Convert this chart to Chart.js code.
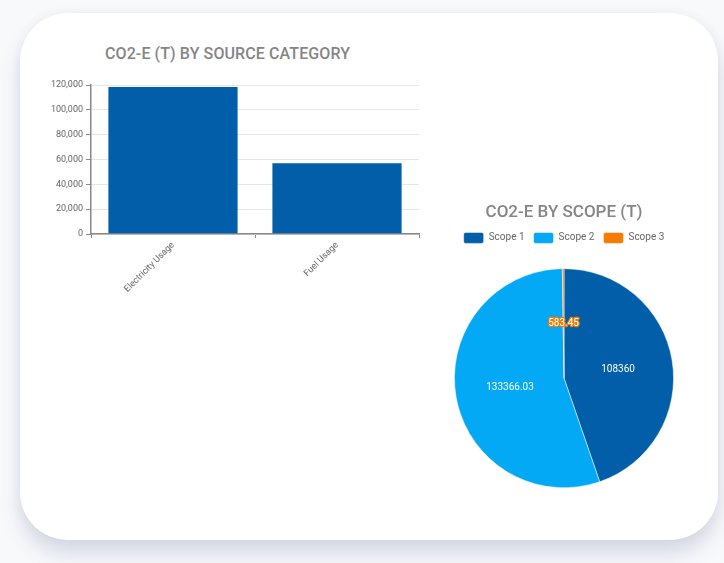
<!DOCTYPE html>
<html>
<head>
<meta charset="utf-8">
<script src="https://cdn.jsdelivr.net/npm/chart.js@4"></script>
<style>
  html, body { margin: 0; padding: 0; }
  body { width: 724px; height: 563px; background: #f8f9fb; position: relative; overflow: hidden; font-family: Roboto, sans-serif; }
  .card { position: absolute; left: 20px; top: 13px; width: 698px; height: 527px; background: #fff; border-radius: 48px;
          box-shadow: 0 14px 20px rgba(60, 80, 130, 0.18), 0 0 12px rgba(60, 80, 130, 0.05); }
  .title { position: absolute; left: 105px; top: 44px; font: 500 16px Roboto, sans-serif; color: #858585; letter-spacing: 0.1px; }
  #barWrap { position: absolute; left: 30px; top: 75px; width: 400px; height: 225px; }
  #pieWrap { position: absolute; left: 414px; top: 202px; width: 300px; height: 300px; }
</style>
</head>
<body>
<div class="card"></div>
<div class="title">CO2-E (T) BY SOURCE CATEGORY</div>
<div id="barWrap"><canvas id="barChart"></canvas></div>
<div id="pieWrap"><canvas id="pieChart"></canvas></div>
<script>
  const sourceCategories = ['Electricity Usage', 'Fuel Usage'];
  const sourceValues = [119200, 57800];

  const scopeLabels = ['Scope 1', 'Scope 2', 'Scope 3'];
  const scopeValues = [108360, 133366.03, 583.45];

  const dark = '#025ea8';
  const light = '#03a9f4';
  const orange = '#f57c00';

  Chart.defaults.font.family = 'Roboto, sans-serif';

  new Chart(document.getElementById('barChart'), {
    type: 'bar',
    data: {
      labels: sourceCategories,
      datasets: [{
        data: sourceValues,
        backgroundColor: dark,
        borderColor: 'rgba(255,255,255,0.35)',
        borderWidth: 1,
        barPercentage: 0.8,
        categoryPercentage: 1
      }]
    },
    options: {
      responsive: true,
      maintainAspectRatio: false,
      animation: false,
      layout: { padding: { top: 10, right: 11 } },
      plugins: { legend: { display: false }, tooltip: { enabled: false } },
      scales: {
        x: {
          afterFit: s => { s.height = 66; },
          grid: { drawOnChartArea: false, tickColor: '#888', tickLength: 4 },
          border: { color: '#888', width: 1.5 },
          ticks: { color: '#666', font: { size: 9 }, minRotation: 45, maxRotation: 45, padding: 2 }
        },
        y: {
          min: 0,
          max: 120000,
          afterFit: s => { s.width = 61; },
          grid: { color: '#e6e6e6', tickColor: '#888', tickLength: 5 },
          border: { color: '#888', width: 1.5 },
          ticks: { stepSize: 20000, color: '#666', font: { size: 9 }, padding: 3,
                   callback: v => v.toLocaleString('en-US') }
        }
      }
    }
  });

  // push the pie down below the legend
  const legendGap = {
    id: 'legendGap',
    beforeInit(chart) {
      const fit = chart.legend.fit;
      chart.legend.fit = function () {
        fit.bind(chart.legend)();
        this.height += 15;
      };
    }
  };

  const sliceLabels = {
    id: 'sliceLabels',
    afterDatasetsDraw(chart) {
      const { ctx } = chart;
      const meta = chart.getDatasetMeta(0);
      ctx.save();
      ctx.font = '10px Roboto, sans-serif';
      ctx.textAlign = 'center';
      ctx.textBaseline = 'middle';
      meta.data.forEach((arc, i) => {
        const p = arc.tooltipPosition();
        const txt = String(scopeValues[i]);
        if (i === 2) {
          ctx.lineWidth = 2.5;
          ctx.strokeStyle = orange;
          ctx.lineJoin = 'round';
          ctx.strokeText(txt, p.x, p.y);
        }
        ctx.fillStyle = '#fff';
        ctx.fillText(txt, p.x, p.y);
      });
      ctx.restore();
    }
  };

  new Chart(document.getElementById('pieChart'), {
    type: 'pie',
    data: {
      labels: scopeLabels,
      datasets: [{
        data: scopeValues,
        backgroundColor: [dark, light, orange],
        borderColor: '#fff',
        borderWidth: 0.5
      }]
    },
    options: {
      responsive: true,
      maintainAspectRatio: false,
      animation: false,
      layout: { padding: { top: 1, bottom: 14 } },
      plugins: {
        tooltip: { enabled: false },
        title: {
          display: true,
          text: 'CO2-E BY SCOPE (T)',
          color: '#858585',
          font: { size: 17, weight: '500' },
          padding: { top: 0, bottom: 0 }
        },
        legend: {
          position: 'top',
          labels: { boxWidth: 20, boxHeight: 11, useBorderRadius: true, borderRadius: 2,
                    color: '#666', font: { size: 10 }, padding: 9 }
        }
      }
    },
    plugins: [legendGap, sliceLabels]
  });
</script>
</body>
</html>
